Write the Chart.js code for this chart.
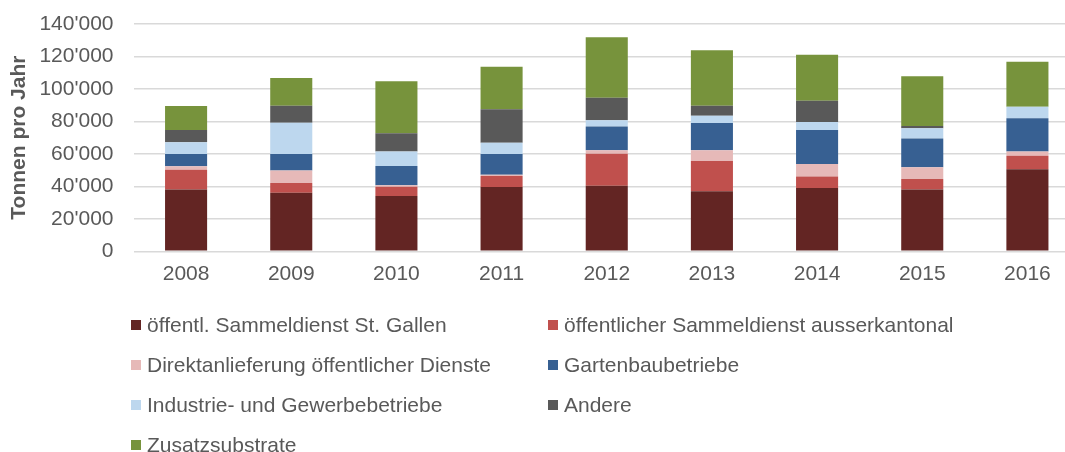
<!DOCTYPE html>
<html>
<head>
<meta charset="utf-8">
<script src="https://cdn.jsdelivr.net/npm/chart.js@4"></script>
<style>
  html, body { margin: 0; padding: 0; background: #fff; overflow: hidden; }
  #wrap { position: relative; width: 1080px; height: 452px; }
  #legend { position: absolute; left: 0; top: 0; font-family: "Liberation Sans", Arial, sans-serif; font-size: 21px; color: #595959; }
  .item { position: absolute; white-space: nowrap; display: flex; align-items: center; height: 30px; }
  .box { width: 10px; height: 10px; margin-right: 6px; }
</style>
</head>
<body>
<div id="wrap">
  <canvas id="chart" width="1080" height="452"></canvas>
  <div id="legend"></div>
</div>
<script>
const years = ["2008", "2009", "2010", "2011", "2012", "2013", "2014", "2015", "2016"];

const seriesNames = [
  "öffentl. Sammeldienst St. Gallen",
  "öffentlicher Sammeldienst ausserkantonal",
  "Direktanlieferung öffentlicher Dienste",
  "Gartenbaubetriebe",
  "Industrie- und Gewerbebetriebe",
  "Andere",
  "Zusatzsubstrate"
];

// Tonnen pro Jahr
const sammeldienstSG = [38000, 36100, 34100, 39600, 40400, 37000, 39000, 38000, 50500];
const sammeldienstAusser = [12300, 6000, 5700, 6800, 19700, 18600, 7000, 6500, 8400];
const direktanlieferung = [2100, 7600, 900, 800, 2100, 6600, 7800, 7300, 2500];
const gartenbau = [7600, 10300, 11900, 12800, 14600, 16800, 20900, 17600, 20600];
const industrie = [7200, 19200, 8800, 6900, 3900, 4500, 5000, 6400, 7100];
const andere = [7500, 10400, 11300, 20600, 13800, 6200, 13100, 1400, 0];
const zusatzsubstrate = [14800, 17200, 32000, 26200, 37300, 34100, 28300, 30600, 27700];

const yTickLabels = ["0", "20'000", "40'000", "60'000", "80'000", "100'000", "120'000", "140'000"];

const colors = ["#632523", "#C0504D", "#E6B9B8", "#376092", "#BDD7EE", "#595959", "#77933C"];
const values = [sammeldienstSG, sammeldienstAusser, direktanlieferung, gartenbau, industrie, andere, zusatzsubstrate];

const font = "'Liberation Sans', Arial, sans-serif";

const datasets = seriesNames.map((name, i) => ({
  label: name,
  data: values[i],
  backgroundColor: colors[i],
  borderWidth: 0,
  categoryPercentage: 1,
  barPercentage: 0.4
}));

new Chart(document.getElementById("chart").getContext("2d"), {
  type: "bar",
  data: { labels: years, datasets },
  options: {
    responsive: false,
    animation: false,
    layout: { padding: { top: 24, left: 0, right: 0, bottom: 0 } },
    plugins: {
      legend: { display: false },
      tooltip: { enabled: false }
    },
    scales: {
      x: {
        stacked: true,
        grid: { display: false, drawTicks: false },
        border: { display: false },
        ticks: { color: "#595959", font: { family: font, size: 21 }, padding: 10 },
        afterFit: (scale) => {
          scale.height = 452 - 251.3;
          scale.paddingLeft = 0;
          scale.paddingRight = 0;
        }
      },
      y: {
        stacked: true,
        min: 0,
        max: 140000,
        grid: { color: "#d9d9d9", lineWidth: 1.5, drawTicks: false },
        border: { display: false },
        ticks: {
          stepSize: 20000,
          color: "#595959",
          font: { family: font, size: 21 },
          padding: 20,
          callback: (v, i) => yTickLabels[i]
        },
        title: {
          display: true,
          text: "Tonnen pro Jahr",
          color: "#595959",
          font: { family: font, size: 21, weight: "bold" },
          padding: { top: 7, bottom: 0 }
        },
        afterFit: (scale) => {
          scale.width = 133.5;
          scale.paddingTop = 0;
          scale.paddingBottom = 0;
        }
      }
    }
  }
});

// two-column legend below the plot
const legend = document.getElementById("legend");
seriesNames.forEach((name, i) => {
  const item = document.createElement("div");
  item.className = "item";
  item.style.left = (i % 2 === 0 ? 131 : 548) + "px";
  item.style.top = (310 + Math.floor(i / 2) * 40) + "px";
  const box = document.createElement("span");
  box.className = "box";
  box.style.background = colors[i];
  const txt = document.createElement("span");
  txt.textContent = name;
  item.appendChild(box);
  item.appendChild(txt);
  legend.appendChild(item);
});
</script>
</body>
</html>
